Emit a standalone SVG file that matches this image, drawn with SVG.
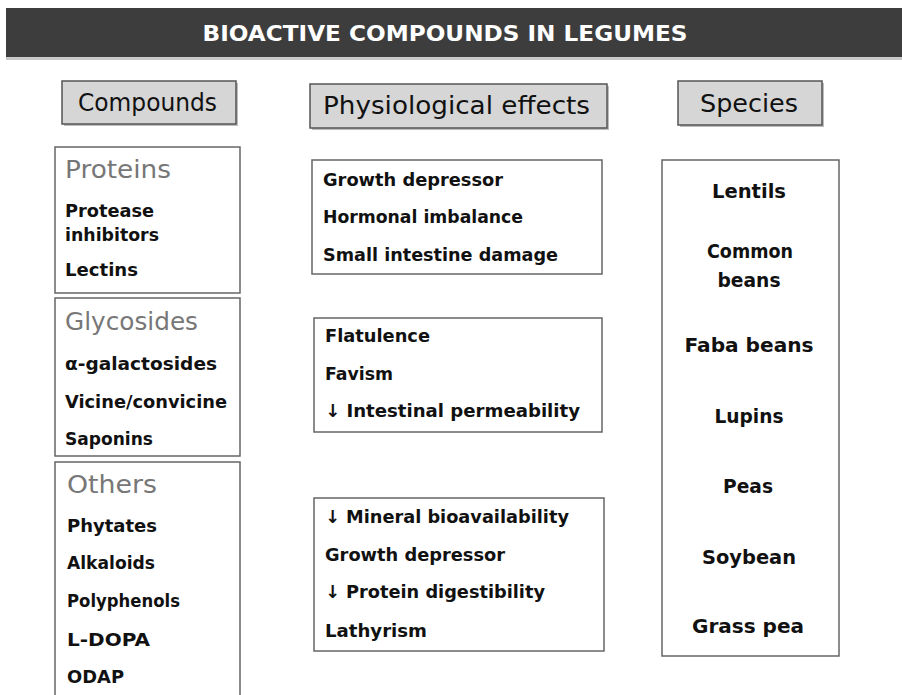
<svg xmlns="http://www.w3.org/2000/svg" width="902" height="695" viewBox="0 0 902 695">
<defs>
<style>
text{font-family:"DejaVu Sans","Liberation Sans",sans-serif;}
.hdr{fill:#d6d6d6;stroke:#555;stroke-width:1.5;}
.shadow{fill:#bdbdbd;}
.box{fill:#fff;stroke:#666;stroke-width:1.5;}
.ht{font-size:25px;fill:#111;}
.cat{font-size:24px;fill:#777;}
.it{font-size:18px;font-weight:bold;fill:#111;}
.sp{font-size:20px;font-weight:bold;fill:#111;text-anchor:middle;}
</style>
</defs>
<rect width="902" height="695" fill="#fff"/>
<g id="title">
<rect x="6" y="57" width="896" height="3" fill="#c8c8c8"/>
<rect x="6" y="8" width="896" height="49" fill="#3d3d3d"/>
<text x="445" y="41" fill="#fff" font-size="21" font-weight="bold" text-anchor="middle" textLength="485" lengthAdjust="spacingAndGlyphs">BIOACTIVE COMPOUNDS IN LEGUMES</text>
</g>
<g id="hdr-compounds">
<rect class="shadow" x="64" y="83" width="174" height="43"/>
<rect class="hdr" x="62" y="81" width="174" height="43"/>
<text class="ht" x="78" y="111" textLength="139" lengthAdjust="spacingAndGlyphs">Compounds</text>
</g>
<g id="hdr-effects">
<rect class="shadow" x="312" y="86" width="297" height="44"/>
<rect class="hdr" x="310" y="84" width="297" height="44"/>
<text class="ht" x="323" y="114" textLength="267" lengthAdjust="spacingAndGlyphs">Physiological effects</text>
</g>
<g id="hdr-species">
<rect class="shadow" x="680" y="83" width="144" height="44"/>
<rect class="hdr" x="678" y="81" width="144" height="44"/>
<text class="ht" x="700" y="112" textLength="98" lengthAdjust="spacingAndGlyphs">Species</text>
</g>
<g id="proteins">
<rect class="box" x="55" y="147" width="185" height="146"/>
<text class="cat" x="65" y="178" textLength="106" lengthAdjust="spacingAndGlyphs">Proteins</text>
<text class="it" x="65" y="217" textLength="89" lengthAdjust="spacingAndGlyphs">Protease</text>
<text class="it" x="65" y="241" textLength="94" lengthAdjust="spacingAndGlyphs">inhibitors</text>
<text class="it" x="65" y="276" textLength="73" lengthAdjust="spacingAndGlyphs">Lectins</text>
</g>
<g id="glycosides">
<rect class="box" x="55" y="298" width="185" height="158"/>
<text class="cat" x="65" y="330" textLength="133" lengthAdjust="spacingAndGlyphs">Glycosides</text>
<text class="it" x="65" y="370" textLength="152" lengthAdjust="spacingAndGlyphs">α-galactosides</text>
<text class="it" x="65" y="408" textLength="162" lengthAdjust="spacingAndGlyphs">Vicine/convicine</text>
<text class="it" x="65" y="445" textLength="88" lengthAdjust="spacingAndGlyphs">Saponins</text>
</g>
<g id="others">
<rect class="box" x="55" y="462" width="185" height="250"/>
<text class="cat" x="67" y="493" textLength="90" lengthAdjust="spacingAndGlyphs">Others</text>
<text class="it" x="67" y="532" textLength="90" lengthAdjust="spacingAndGlyphs">Phytates</text>
<text class="it" x="67" y="569" textLength="88" lengthAdjust="spacingAndGlyphs">Alkaloids</text>
<text class="it" x="67" y="607" textLength="113" lengthAdjust="spacingAndGlyphs">Polyphenols</text>
<text class="it" x="67" y="646" textLength="83" lengthAdjust="spacingAndGlyphs">L-DOPA</text>
<text class="it" x="67" y="683" textLength="57" lengthAdjust="spacingAndGlyphs">ODAP</text>
</g>
<g id="effects-proteins">
<rect class="box" x="312" y="160" width="290" height="114"/>
<text class="it" x="323" y="186" textLength="180" lengthAdjust="spacingAndGlyphs">Growth depressor</text>
<text class="it" x="323" y="223" textLength="200" lengthAdjust="spacingAndGlyphs">Hormonal imbalance</text>
<text class="it" x="323" y="261" textLength="235" lengthAdjust="spacingAndGlyphs">Small intestine damage</text>
</g>
<g id="effects-glycosides">
<rect class="box" x="314" y="318" width="288" height="114"/>
<text class="it" x="325" y="342" textLength="105" lengthAdjust="spacingAndGlyphs">Flatulence</text>
<text class="it" x="325" y="380" textLength="68" lengthAdjust="spacingAndGlyphs">Favism</text>
<text class="it" x="325" y="417" textLength="255" lengthAdjust="spacingAndGlyphs">↓ Intestinal permeability</text>
</g>
<g id="effects-others">
<rect class="box" x="314" y="498" width="290" height="153"/>
<text class="it" x="325" y="523" textLength="244" lengthAdjust="spacingAndGlyphs">↓ Mineral bioavailability</text>
<text class="it" x="325" y="561" textLength="180" lengthAdjust="spacingAndGlyphs">Growth depressor</text>
<text class="it" x="325" y="598" textLength="220" lengthAdjust="spacingAndGlyphs">↓ Protein digestibility</text>
<text class="it" x="325" y="637" textLength="102" lengthAdjust="spacingAndGlyphs">Lathyrism</text>
</g>
<g id="species">
<rect class="box" x="662" y="160" width="177" height="496"/>
<text class="sp" x="749" y="198" textLength="74" lengthAdjust="spacingAndGlyphs">Lentils</text>
<text class="sp" x="750" y="258" textLength="86" lengthAdjust="spacingAndGlyphs">Common</text>
<text class="sp" x="749" y="287" textLength="63" lengthAdjust="spacingAndGlyphs">beans</text>
<text class="sp" x="749" y="352" textLength="129" lengthAdjust="spacingAndGlyphs">Faba beans</text>
<text class="sp" x="749" y="423" textLength="69" lengthAdjust="spacingAndGlyphs">Lupins</text>
<text class="sp" x="748" y="493" textLength="50" lengthAdjust="spacingAndGlyphs">Peas</text>
<text class="sp" x="749" y="564" textLength="94" lengthAdjust="spacingAndGlyphs">Soybean</text>
<text class="sp" x="748" y="633" textLength="112" lengthAdjust="spacingAndGlyphs">Grass pea</text>
</g>
<g id="connectors"/>
</svg>
